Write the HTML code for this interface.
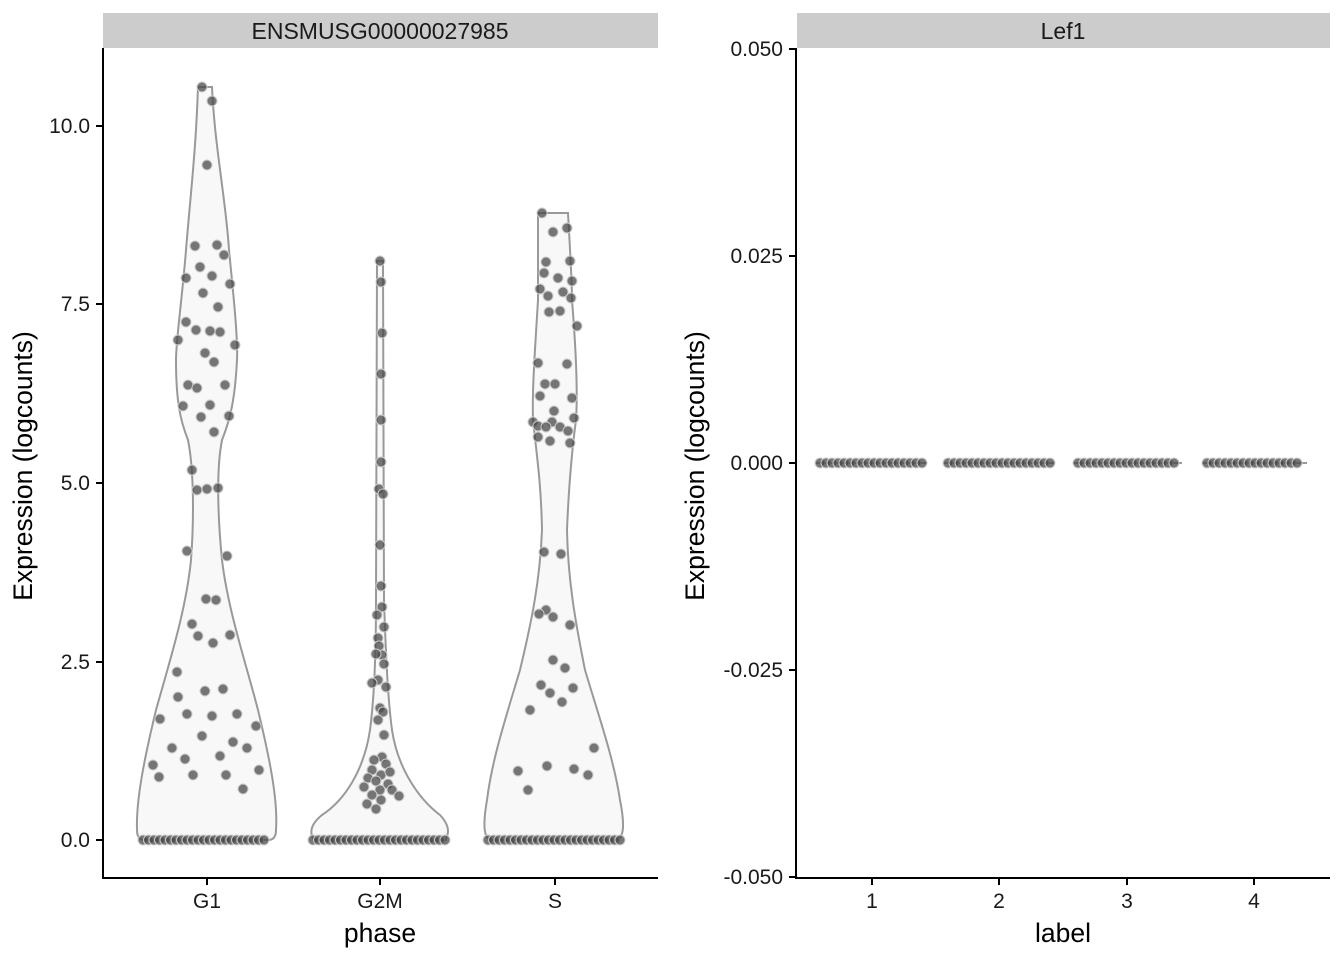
<!DOCTYPE html>
<html><head><meta charset="utf-8"><style>body{margin:0;background:#fff}svg{display:block;font-family:"Liberation Sans",sans-serif}</style></head>
<body>
<svg width="1344" height="960" xmlns="http://www.w3.org/2000/svg">
<rect width="1344" height="960" fill="#fff"/>
<rect x="103" y="13" width="555" height="35" fill="#cccccc"/>
<text x="380" y="39" font-size="23" text-anchor="middle" fill="#1a1a1a">ENSMUSG00000027985</text>
<g fill="#f8f8f8" stroke="#999" stroke-width="2">
<path d="M198,87 L212,87 C215,150 226,200 229,250 C234,300 238,340 237,360 C235,400 230,420 222,440 C216,470 218,520 222,560 C228,610 245,660 258,710 C270,760 278,800 276,830 Q276,840 268,840 L145,840 Q137,840 137,830 C136,800 144,760 156,710 C170,660 186,610 191,560 C194,520 194,470 188,440 C180,420 176,400 176,360 C176,340 182,300 186,250 C190,200 196,150 198,87Z"/>
<path d="M377,261 L383,261 L384,600 C386,660 388,700 392,730 C398,770 420,800 440,815 Q452,828 446,838 L446,840 L314,840 Q306,828 322,815 C345,800 364,770 370,730 C374,700 376,660 376,600Z"/>
<path d="M538,213 L568,213 C570,250 572,280 572,300 C576,350 578,390 576,420 C572,450 569,480 567,530 C568,580 575,620 585,670 C600,720 614,760 620,800 Q628,840 615,840 L492,840 Q480,840 487,800 C492,760 505,720 520,670 C532,620 540,580 542,530 C541,480 536,450 533,420 C532,390 535,350 538,300 C538,280 538,250 538,213Z"/>
</g>
<g fill="#4a4a4a" fill-opacity="0.75" stroke="#ccc" stroke-width="1" id="pts"></g>
<line x1="103" y1="48" x2="103" y2="878" stroke="#000" stroke-width="2"/>
<line x1="102" y1="878" x2="658" y2="878" stroke="#000" stroke-width="2"/>
<g stroke="#000" stroke-width="2">
<line x1="96" y1="126" x2="103" y2="126"/><line x1="96" y1="304" x2="103" y2="304"/><line x1="96" y1="483" x2="103" y2="483"/><line x1="96" y1="662" x2="103" y2="662"/><line x1="96" y1="840" x2="103" y2="840"/>
<line x1="207" y1="878" x2="207" y2="885"/><line x1="380" y1="878" x2="380" y2="885"/><line x1="555" y1="878" x2="555" y2="885"/>
</g>
<g font-size="21" fill="#1a1a1a" text-anchor="end">
<text x="90" y="133">10.0</text><text x="90" y="311">7.5</text><text x="90" y="490">5.0</text><text x="90" y="669">2.5</text><text x="90" y="847">0.0</text>
</g>
<g font-size="21" fill="#1a1a1a" text-anchor="middle">
<text x="207" y="908">G1</text><text x="380" y="908">G2M</text><text x="555" y="908">S</text>
</g>
<text x="380" y="942" font-size="26.5" text-anchor="middle">phase</text>
<text transform="translate(32,466) rotate(-90)" font-size="26.5" text-anchor="middle">Expression (logcounts)</text>
<rect x="797" y="13" width="533" height="35" fill="#cccccc"/>
<text x="1063" y="39" font-size="23" text-anchor="middle" fill="#1a1a1a">Lef1</text>
<g stroke="#999" stroke-width="2">
<line x1="816" y1="463" x2="927" y2="463"/><line x1="944" y1="463" x2="1054" y2="463"/><line x1="1073" y1="463" x2="1182" y2="463"/><line x1="1202" y1="463" x2="1307" y2="463"/>
</g>
<g fill="#4a4a4a" fill-opacity="0.75" stroke="#ccc" stroke-width="1" id="pts2"></g>
<line x1="796" y1="48" x2="796" y2="878" stroke="#000" stroke-width="2"/>
<line x1="795" y1="878" x2="1330" y2="878" stroke="#000" stroke-width="2"/>
<g stroke="#000" stroke-width="2">
<line x1="789" y1="49" x2="796" y2="49"/><line x1="789" y1="256" x2="796" y2="256"/><line x1="789" y1="463" x2="796" y2="463"/><line x1="789" y1="670" x2="796" y2="670"/><line x1="789" y1="877" x2="796" y2="877"/>
<line x1="872" y1="878" x2="872" y2="885"/><line x1="999" y1="878" x2="999" y2="885"/><line x1="1127" y1="878" x2="1127" y2="885"/><line x1="1254" y1="878" x2="1254" y2="885"/>
</g>
<g font-size="21" fill="#1a1a1a" text-anchor="end">
<text x="783" y="56">0.050</text><text x="783" y="263">0.025</text><text x="783" y="470">0.000</text><text x="783" y="677">-0.025</text><text x="783" y="884">-0.050</text>
</g>
<g font-size="21" fill="#1a1a1a" text-anchor="middle">
<text x="872" y="908">1</text><text x="999" y="908">2</text><text x="1127" y="908">3</text><text x="1254" y="908">4</text>
</g>
<text x="1063" y="942" font-size="26.5" text-anchor="middle">label</text>
<text transform="translate(704,466) rotate(-90)" font-size="26.5" text-anchor="middle">Expression (logcounts)</text>
<script>
var ns="http://www.w3.org/2000/svg";
function add(g,x,y){var c=document.createElementNS(ns,"circle");c.setAttribute("cx",x);c.setAttribute("cy",y);c.setAttribute("r",5);g.appendChild(c);}
var g=document.getElementById("pts");
var P=[[202,87],[212,101],[207,165],[195,246],[217,245],[224,255],[186,278],[200,267],[212,276],[203,293],[230,284],[218,307],[186,322],[196,330],[210,331],[178,340],[220,332],[235,345],[205,353],[214,362],[188,385],[197,388],[225,385],[183,406],[210,405],[201,417],[229,416],[214,432],[192,470],[197,490],[207,489],[218,488],[187,551],[227,556],[206,599],[216,600],[192,624],[230,635],[198,636],[213,643],[177,672],[205,691],[178,697],[223,689],[187,714],[212,716],[237,714],[160,719],[256,726],[202,736],[233,742],[172,748],[247,748],[185,759],[220,756],[153,765],[259,770],[159,777],[193,775],[226,775],[243,789],
[380,261],[381,282],[382,333],[381,374],[381,420],[381,462],[379,489],[383,494],[380,545],[381,586],[382,607],[377,615],[384,627],[378,638],[379,646],[382,655],[384,664],[376,654],[378,680],[372,683],[386,687],[380,708],[383,712],[378,720],[384,735],[382,757],[374,760],[386,764],[372,770],[381,775],[390,772],[368,778],[376,781],[388,784],[364,787],[380,790],[372,795],[392,790],[399,796],[367,804],[381,800],[376,809],
[542,213],[553,232],[567,228],[546,262],[544,273],[570,261],[558,278],[572,281],[540,289],[563,292],[548,296],[571,298],[549,312],[560,311],[577,326],[538,363],[567,364],[545,384],[555,384],[540,396],[572,398],[554,411],[533,422],[574,418],[552,422],[538,426],[546,427],[560,427],[568,431],[538,437],[550,441],[570,443],[544,552],[561,554],[546,610],[539,614],[553,617],[570,625],[553,660],[565,668],[541,685],[550,693],[573,688],[530,710],[562,702],[594,748],[518,771],[547,766],[574,769],[588,775],[528,790]];
P.forEach(function(p){add(g,p[0],p[1]);});
[[143,268],[313,446],[488,620]].forEach(function(r){for(var x=r[0];x<=r[1];x+=5.5)add(g,x,840);});
var g2=document.getElementById("pts2");
[[820,923],[948,1050],[1078,1174],[1207,1297]].forEach(function(r){for(var x=r[0];x<=r[1];x+=6)add(g2,x,463);});
</script>
</svg>
</body></html>
